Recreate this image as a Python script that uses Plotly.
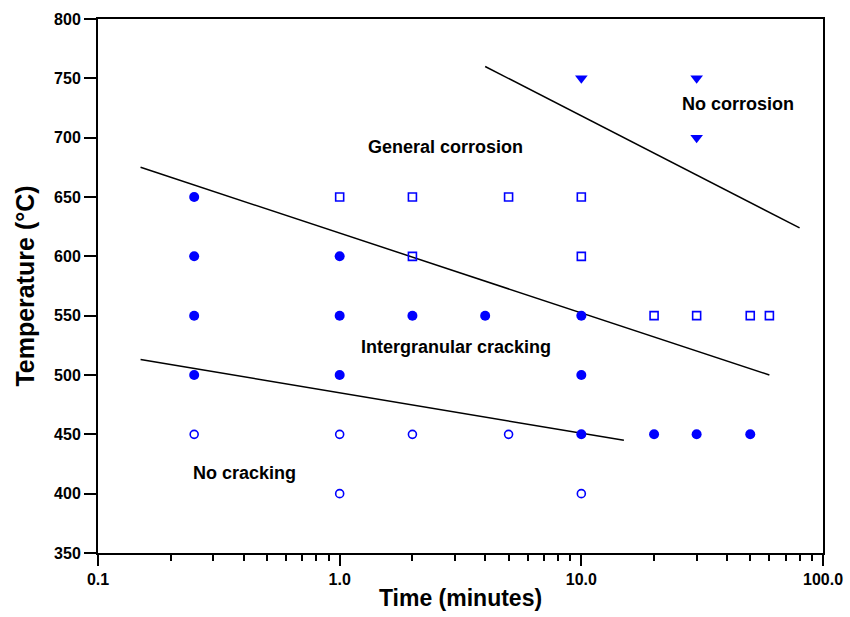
import math
import plotly.graph_objects as go

# Intergranular cracking (filled circles)
igc_time = [0.25, 0.25, 0.25, 0.25, 1, 1, 1, 2, 4, 10, 10, 10, 20, 30, 50]
igc_temp = [650, 600, 550, 500, 600, 550, 500, 550, 550, 550, 500, 450, 450, 450, 450]

# General corrosion (open squares)
gc_time = [1, 2, 5, 10, 2, 10, 20, 30, 50, 60]
gc_temp = [650, 650, 650, 650, 600, 600, 550, 550, 550, 550]

# No cracking (open circles)
nc_time = [0.25, 1, 2, 5, 1, 10]
nc_temp = [450, 450, 450, 450, 400, 400]

# No corrosion (filled down-triangles)
ncor_time = [10, 30, 30]
ncor_temp = [750, 750, 700]

# Boundary lines
line1_time = [0.15, 60]
line1_temp = [675, 500]
line2_time = [0.15, 15]
line2_temp = [513, 445]
line3_time = [4, 80]
line3_temp = [760, 624]

# Region labels
label_text = ["General corrosion", "No corrosion", "Intergranular cracking", "No cracking"]
label_time = [2.74, 44.6, 3.04, 0.405]
label_temp = [692, 728, 524, 417]

x_tickvals = [0.1, 1, 10, 100]
x_ticktext = ["0.1", "1.0", "10.0", "100.0"]
y_tickvals = [350, 400, 450, 500, 550, 600, 650, 700, 750, 800]

BLUE = "#0000FF"
FONT = "Liberation Sans"

fig = go.Figure()

for xs, ys in [(line1_time, line1_temp), (line2_time, line2_temp), (line3_time, line3_temp)]:
    fig.add_trace(go.Scatter(x=xs, y=ys, mode="lines",
                             line=dict(color="black", width=1.5), showlegend=False,
                             hoverinfo="skip"))

fig.add_trace(go.Scatter(x=igc_time, y=igc_temp, mode="markers",
                         marker=dict(symbol="circle", size=10, color=BLUE),
                         showlegend=False))
fig.add_trace(go.Scatter(x=gc_time, y=gc_temp, mode="markers",
                         marker=dict(symbol="square-open", size=8, color=BLUE,
                                     line=dict(width=1.6, color=BLUE)),
                         showlegend=False))
fig.add_trace(go.Scatter(x=nc_time, y=nc_temp, mode="markers",
                         marker=dict(symbol="circle-open", size=8, color=BLUE,
                                     line=dict(width=1.6, color=BLUE)),
                         showlegend=False))
fig.add_trace(go.Scatter(x=ncor_time, y=ncor_temp, mode="markers",
                         marker=dict(symbol="triangle-down", size=11, color=BLUE),
                         showlegend=False))

for t, xv, yv in zip(label_text, label_time, label_temp):
    fig.add_annotation(x=math.log10(xv), y=yv, xref="x", yref="y", text="<b>%s</b>" % t,
                       showarrow=False, font=dict(family=FONT, size=18, color="black"))

minor_vals = [m * d for d in [0.1, 1, 10] for m in range(2, 10)]

fig.update_xaxes(
    type="log", range=[-1, 2], automargin=False,
    tickmode="array", tickvals=x_tickvals, ticktext=["<b>%s</b>" % s for s in x_ticktext],
    ticks="outside", ticklen=11, tickwidth=1.5, tickcolor="black",
    minor=dict(tickmode="array", tickvals=minor_vals, ticks="outside",
               ticklen=6, tickwidth=1.5, tickcolor="black", showgrid=False),
    showline=True, linecolor="black", linewidth=2, mirror=True,
    showgrid=False, zeroline=False,
    tickfont=dict(family=FONT, size=16, color="black"),
    title=dict(text="<b>Time (minutes)</b>", font=dict(family=FONT, size=23, color="black"),
               standoff=3),
)
fig.update_yaxes(
    range=[350, 800], automargin=False,
    tickmode="array", tickvals=y_tickvals, ticktext=["<b>%d</b>" % v for v in y_tickvals],
    ticks="outside", ticklen=12, tickwidth=1.5, tickcolor="black",
    showline=True, linecolor="black", linewidth=2, mirror=True,
    showgrid=False, zeroline=False,
    tickfont=dict(family=FONT, size=16, color="black"),
    title=dict(text="<b>Temperature (°C)</b>", font=dict(family=FONT, size=25, color="black"),
               standoff=12),
)

fig.update_layout(
    width=850, height=617,
    margin=dict(l=98, r=27, t=19, b=64),
    plot_bgcolor="white", paper_bgcolor="white",
    font=dict(family=FONT),
)

fig.write_html("out.html", config={"displayModeBar": False},
               post_script="document.body.style.margin='0';document.body.style.overflow='hidden';")
